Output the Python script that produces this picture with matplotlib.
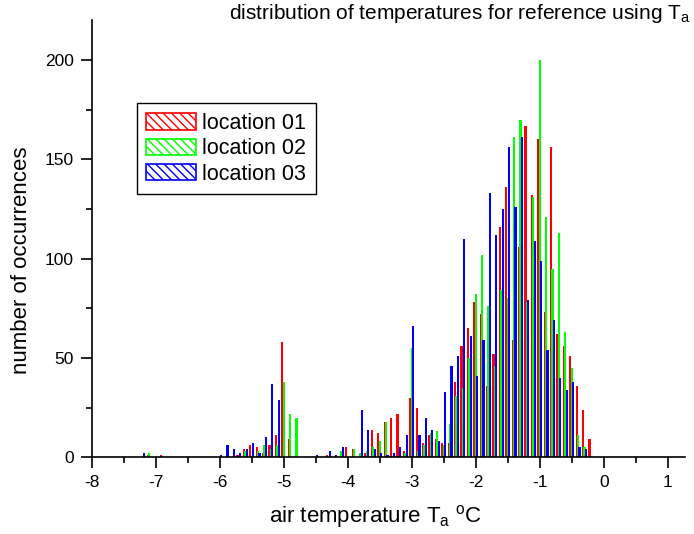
import numpy as np
from matplotlib import pyplot as plt
from matplotlib.patches import Patch

plt.rcParams['font.family'] = ['Liberation Sans', 'DejaVu Sans']
plt.rcParams['mathtext.default'] = 'regular'
plt.rcParams['hatch.linewidth'] = 1.0

# bin values, deg C (0.1 wide bins)
bins = np.round(np.arange(-7.2, -0.15, 0.1), 1)

loc01 = [0, 1, 0, 1, 0, 0, 0, 0, 0, 0,
         0, 0, 0, 0, 0, 1, 4, 6, 5, 2,
         6, 11, 58, 9, 0, 0, 0, 0, 0, 1,
         0, 0, 5, 4, 0, 2, 14, 12, 18, 20,
         22, 3, 30, 25, 7, 11, 9, 7, 7, 38,
         56, 65, 78, 72, 36, 52, 116, 136, 59, 106,
         167, 132, 160, 73, 156, 62, 56, 51, 36, 24,
         9]
loc02 = [0, 2, 0, 0, 0, 0, 0, 0, 0, 0,
         0, 0, 0, 0, 0, 0, 3, 0, 3, 6,
         4, 6, 38, 22, 20, 0, 0, 0, 0, 0,
         0, 3, 0, 4, 2, 3, 5, 8, 18, 0,
         0, 2, 55, 3, 6, 12, 13, 6, 17, 31,
         35, 50, 82, 102, 76, 46, 84, 80, 161, 170,
         78, 131, 200, 121, 95, 113, 63, 45, 11, 5,
         0]
loc03 = [2, 0, 0, 0, 0, 0, 0, 0, 0, 0,
         0, 0, 1, 6, 4, 2, 4, 7, 2, 10,
         37, 29, 0, 0, 0, 0, 0, 1, 0, 3,
         1, 5, 0, 0, 24, 14, 4, 2, 1, 2,
         5, 11, 66, 11, 20, 14, 8, 33, 46, 51,
         110, 61, 41, 59, 133, 112, 125, 156, 126, 161,
         79, 109, 99, 54, 69, 40, 34, 38, 5, 4,
         0]

labels = ['location 01', 'location 02', 'location 03']
colors = ['#ff0000', '#00ff00', '#0000ff']

fig = plt.figure(figsize=(6.94, 5.34), dpi=100)
ax = fig.add_axes([0.1321, 0.1436, 0.855, 0.8185])

offsets = [-0.022, 0.0, 0.022]
for counts, col, off in zip([loc01, loc02, loc03], colors, offsets):
    ax.bar(bins + off, counts, width=0.034, color=col, edgecolor='none')

ax.set_xlim(-8, 1.27)
ax.set_ylim(0, 220)
ax.set_xticks(np.arange(-8, 2, 1))
ax.set_xticks(np.arange(-7.5, 1.5, 1), minor=True)
ax.set_yticks([0, 50, 100, 150, 200])
ax.set_yticks([25, 75, 125, 175], minor=True)
ax.tick_params(which='major', direction='out', length=8, width=1.2, labelsize=12.5, pad=5)
ax.tick_params(which='minor', direction='out', length=4.5, width=1.2)
ax.set_xticklabels([str(v) for v in range(-8, 2)])
for s in ['top', 'right']:
    ax.spines[s].set_visible(False)
for s in ['left', 'bottom']:
    ax.spines[s].set_linewidth(1.2)

ax.set_xlabel(r'air temperature $T_a$ $^o$C', fontsize=16)
ax.set_ylabel('number of occurrences', fontsize=16)
ax.xaxis.set_label_coords(0.478, -0.105)
ax.yaxis.set_label_coords(-0.10, 0.45)

fig.text(0.995, 0.953, r'distribution of temperatures for reference using $T_a$',
         ha='right', va='bottom', fontsize=15)

handles = [Patch(facecolor='white', edgecolor=c, hatch='\\\\\\\\', linewidth=1.2) for c in colors]
leg = ax.legend(handles, labels, loc='upper left', bbox_to_anchor=(0.076, 0.81),
                fontsize=15.5, fancybox=False, edgecolor='black', framealpha=1,
                borderaxespad=0, handlelength=2.3, handleheight=0.8,
                handletextpad=0.3, labelspacing=0.2, borderpad=0.45)
leg.get_frame().set_linewidth(1.0)
for h, c in zip(leg.legend_handles, colors):
    h.set_edgecolor(c)

fig.savefig('out.png', dpi=100)
